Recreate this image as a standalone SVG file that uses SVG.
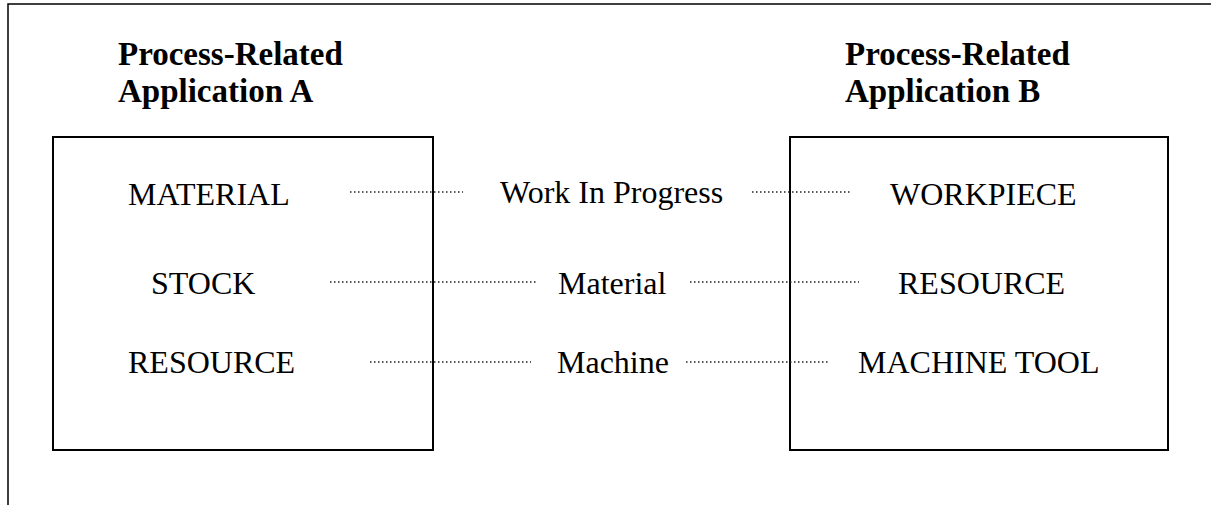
<svg xmlns="http://www.w3.org/2000/svg" width="1211" height="505" viewBox="0 0 1211 505">
<style>
.frame{fill:none;stroke:#000;stroke-width:1.5}
.box{fill:#fff;stroke:#000;stroke-width:2}
.t{font-family:"Liberation Serif","Times New Roman",serif;font-size:32px;fill:#000}
.h{font-family:"Liberation Serif","Times New Roman",serif;font-size:33px;font-weight:bold;fill:#000}
.dot{stroke:#222;stroke-width:1.5;stroke-dasharray:1.5 2.5;fill:none}
</style>
<rect width="1211" height="505" fill="#fff"/>
<path class="frame" d="M8,510 V4 H1215"/>
<g id="appA">
<text class="h" x="118" y="65">Process-Related</text>
<text class="h" x="118" y="102">Application A</text>
<rect class="box" x="53" y="137" width="380" height="313"/>
<text class="t" x="128" y="205">MATERIAL</text>
<text class="t" x="151" y="294">STOCK</text>
<text class="t" x="128" y="373">RESOURCE</text>
</g>
<g id="appB">
<text class="h" x="845" y="65">Process-Related</text>
<text class="h" x="845" y="102">Application B</text>
<rect class="box" x="790" y="137" width="378" height="313"/>
<text class="t" x="890" y="205">WORKPIECE</text>
<text class="t" x="898" y="294">RESOURCE</text>
<text class="t" x="858" y="373">MACHINE TOOL</text>
</g>
<g id="connectors">
<line class="dot" x1="350" y1="192" x2="463" y2="192"/>
<line class="dot" x1="752" y1="192" x2="852" y2="192"/>
<line class="dot" x1="330" y1="282" x2="537" y2="282"/>
<line class="dot" x1="690" y1="282" x2="859" y2="282"/>
<line class="dot" x1="370" y1="362" x2="531" y2="362"/>
<line class="dot" x1="686" y1="362" x2="829" y2="362"/>
</g>
<g id="labels">
<text class="t" x="500" y="203">Work In Progress</text>
<text class="t" x="558" y="294">Material</text>
<text class="t" x="557" y="373">Machine</text>
</g>
</svg>
